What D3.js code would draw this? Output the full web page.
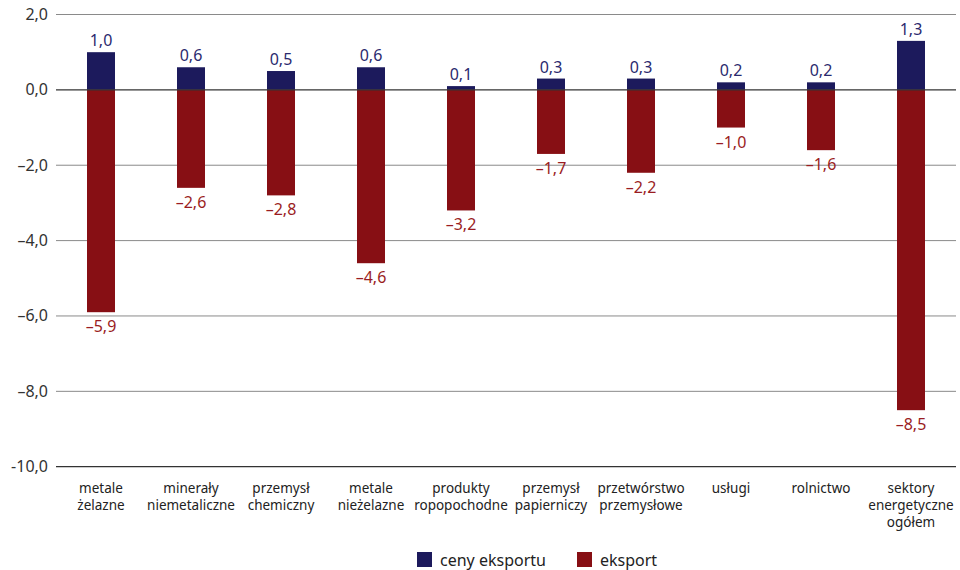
<!DOCTYPE html>
<html><head><meta charset="utf-8">
<script src="https://cdn.jsdelivr.net/npm/d3@7"></script>
<style>body{margin:0;background:#fff}svg{display:block;font-family:"Noto Sans","Open Sans",sans-serif}</style>
</head><body><svg id="c" width="960" height="570"></svg>
<script>
const categories = [["metale","żelazne"],["minerały","niemetaliczne"],["przemysł","chemiczny"],["metale","nieżelazne"],["produkty","ropopochodne"],["przemysł","papierniczy"],["przetwórstwo","przemysłowe"],["usługi"],["rolnictwo"],["sektory","energetyczne","ogółem"]];
const cenyEksportu = [1.0,0.6,0.5,0.6,0.1,0.3,0.3,0.2,0.2,1.3];
const eksport = [-5.9,-2.6,-2.8,-4.6,-3.2,-1.7,-2.2,-1.0,-1.6,-8.5];
const yTicks = [2,0,-2,-4,-6,-8,-10];
const seriesNames = ["ceny eksportu","eksport"];
const colors = ["#1c1a5c","#870f14"];
const labelColors = ["#2b2a6e","#9a1c22"];

const svg = d3.select("#c");
const x = d3.scaleBand().domain(d3.range(categories.length)).range([56,956]).padding(0);
const y = d3.scaleLinear().domain([-10,2]).range([466.7,14.5]);
const bw = 28;
const fmt = v => { const s = Math.abs(v).toFixed(1).replace(".", ","); return v < 0 ? "\u2013"+s : s; };
const tickFmt = v => { const s = Math.abs(v).toFixed(1).replace(".", ","); if (v===-10) return "-"+s; return v<0 ? "\u2013"+s : s; };

// gridlines
svg.append("g").selectAll("line").data(yTicks.filter(t=>t!==0 && t!==-10)).join("line")
  .attr("x1",56).attr("x2",956).attr("y1",d=>y(d)).attr("y2",d=>y(d))
  .attr("stroke","#8a8a8a").attr("stroke-width",1);

// y labels
svg.append("g").selectAll("text").data(yTicks).join("text")
  .attr("x",48).attr("y",d=>y(d)+5.5).attr("text-anchor","end")
  .attr("font-size",16).attr("fill","#333").text(tickFmt);

// bars
const idx = d3.range(categories.length);
svg.append("g").selectAll("rect").data(idx).join("rect")
  .attr("x",i=>x(i)+x.bandwidth()/2-bw/2).attr("width",bw)
  .attr("y",i=>y(cenyEksportu[i])).attr("height",i=>y(0)-y(cenyEksportu[i]))
  .attr("fill",colors[0]);
svg.append("g").selectAll("rect").data(idx).join("rect")
  .attr("x",i=>x(i)+x.bandwidth()/2-bw/2).attr("width",bw)
  .attr("y",y(0)).attr("height",i=>y(eksport[i])-y(0))
  .attr("fill",colors[1]);

// zero line & bottom axis
svg.append("line").attr("x1",56).attr("x2",956).attr("y1",y(0)).attr("y2",y(0)).attr("stroke","#333").attr("stroke-width",1.2);
svg.append("line").attr("x1",56).attr("x2",956).attr("y1",y(-10)).attr("y2",y(-10)).attr("stroke","#333").attr("stroke-width",1.2);

// value labels
svg.append("g").selectAll("text").data(idx).join("text")
  .attr("x",i=>x(i)+x.bandwidth()/2).attr("y",i=>y(cenyEksportu[i])-6)
  .attr("text-anchor","middle").attr("font-size",16).attr("fill",labelColors[0])
  .text(i=>fmt(cenyEksportu[i]));
svg.append("g").selectAll("text").data(idx).join("text")
  .attr("x",i=>x(i)+x.bandwidth()/2).attr("y",i=>y(eksport[i])+20)
  .attr("text-anchor","middle").attr("font-size",16).attr("fill",labelColors[1])
  .text(i=>fmt(eksport[i]));

// category labels
const cg = svg.append("g").selectAll("text").data(idx).join("text")
  .attr("text-anchor","middle").attr("font-size",13.5).attr("fill","#222");
cg.each(function(i){
  const t = d3.select(this);
  categories[i].forEach((ln,k)=>{
    t.append("tspan").attr("x",x(i)+x.bandwidth()/2).attr("y",493+k*17).text(ln);
  });
});

// legend
const leg = [{n:seriesNames[0],c:colors[0],x:417},{n:seriesNames[1],c:colors[1],x:577}];
const lg = svg.append("g");
leg.forEach(l=>{
  lg.append("rect").attr("x",l.x).attr("y",552).attr("width",15).attr("height",15).attr("fill",l.c);
  lg.append("text").attr("x",l.x+23).attr("y",566).attr("font-size",16).attr("fill","#222").text(l.n);
});
</script></body></html>
